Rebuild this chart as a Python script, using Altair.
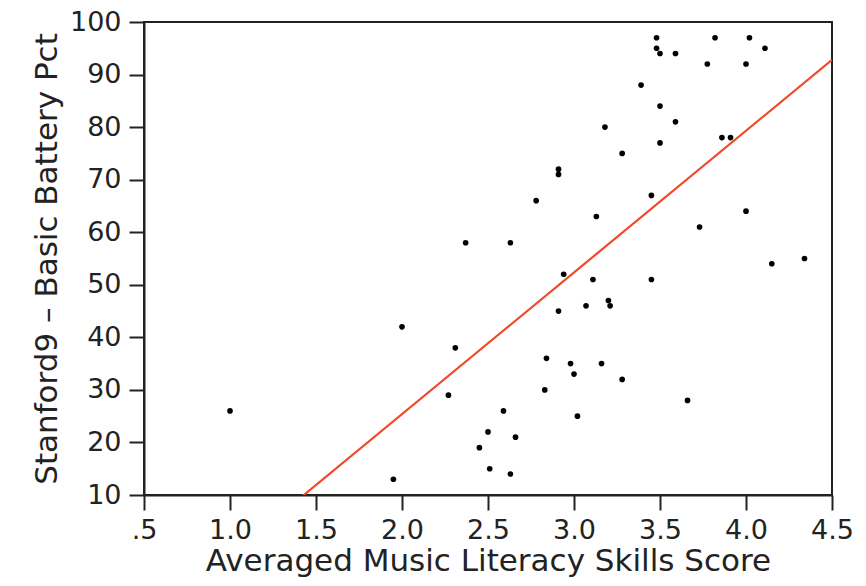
import altair as alt
import pandas as pd

score = [1.00, 1.95, 2.00, 2.27, 2.31, 2.37, 2.45, 2.50, 2.51, 2.59,
         2.63, 2.63, 2.66, 2.78, 2.83, 2.84, 2.91, 2.91, 2.91, 2.94,
         2.98, 3.00, 3.02, 3.07, 3.11, 3.13, 3.16, 3.18, 3.20, 3.21,
         3.28, 3.28, 3.39, 3.45, 3.45, 3.48, 3.48, 3.50, 3.50, 3.50,
         3.59, 3.59, 3.66, 3.73, 3.775, 3.82, 3.86, 3.91, 4.00, 4.00,
         4.02, 4.11, 4.15, 4.34]
pct = [26, 13, 42, 29, 38, 58, 19, 22, 15, 26,
       14, 58, 21, 66, 30, 36, 45, 71, 72, 52,
       35, 33, 25, 46, 51, 63, 35, 80, 47, 46,
       75, 32, 88, 67, 51, 97, 95, 94, 84, 77,
       94, 81, 28, 61, 92, 97, 78, 78, 92, 64,
       97, 95, 54, 55]

df = pd.DataFrame({"score": score, "pct": pct})

FONT = "DejaVu Sans"

xscale = alt.Scale(domain=[0.5, 4.5], nice=False, zero=False)
yscale = alt.Scale(domain=[10, 100], nice=False, zero=False)

xaxis = alt.Axis(
    title="Averaged Music Literacy Skills Score",
    values=[0.5, 1.0, 1.5, 2.0, 2.5, 3.0, 3.5, 4.0, 4.5],
    labelExpr="datum.value == 0.5 ? '.5' : format(datum.value, '.1f')",
    grid=False, tickSize=15, tickWidth=2, tickColor="#222",
    domainColor="#222", domainWidth=2,
    labelFont=FONT, labelFontSize=27, labelColor="#222", labelPadding=7,
    titleFont=FONT, titleFontSize=31, titleFontWeight="normal", titleColor="#222",
    titlePadding=3, labelFlush=False, labelOverlap=False,
)
yaxis = alt.Axis(
    title="Stanford9 – Basic Battery Pct",
    values=list(range(10, 101, 10)),
    grid=False, tickSize=15, tickWidth=2, tickColor="#222",
    domainColor="#222", domainWidth=2,
    labelFont=FONT, labelFontSize=27, labelColor="#222", labelPadding=8,
    titleFont=FONT, titleFontSize=31, titleFontWeight="normal", titleColor="#222",
    titlePadding=6, labelFlush=False, labelOverlap=False,
)

points = alt.Chart(df).mark_circle(size=32, color="black", opacity=1).encode(
    x=alt.X("score:Q", scale=xscale, axis=xaxis),
    y=alt.Y("pct:Q", scale=yscale, axis=yaxis),
)

fit = alt.Chart(df).transform_regression(
    "score", "pct", extent=[0.5, 4.5]
).mark_line(color="#f04a2a", strokeWidth=2.2, clip=True).encode(
    x=alt.X("score:Q", scale=xscale),
    y=alt.Y("pct:Q", scale=yscale),
)

chart = alt.layer(points, fit).properties(
    width=688, height=473,
    autosize=alt.AutoSizeParams(type="none"),
    padding={"left": 136, "top": 14, "right": 22, "bottom": 83},
).configure_view(stroke="#222", strokeWidth=2)

chart.save("out.html", embed_options={"renderer": "svg", "actions": False})
